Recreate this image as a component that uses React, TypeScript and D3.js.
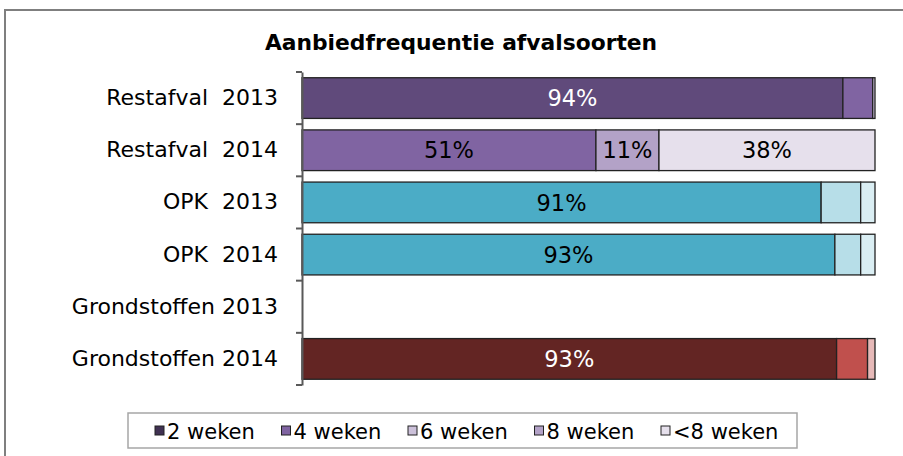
import React, { useEffect, useRef } from "react";
import * as d3 from "d3";

/* DATA */
const categories = [
  "Restafval  2013",
  "Restafval  2014",
  "OPK  2013",
  "OPK  2014",
  "Grondstoffen 2013",
  "Grondstoffen 2014",
];
const seriesNames = ["2 weken", "4 weken", "6 weken", "8 weken", "<8 weken"];
const weken2 = [94.4, 0, 90.6, 93.0, 0, 93.3];
const weken4 = [5.2, 51.3, 6.9, 4.5, 0, 5.4];
const weken6 = [0.4, 0, 2.5, 2.5, 0, 1.3];
const weken8 = [0, 11.0, 0, 0, 0, 0];
const wekenMeer = [0, 37.7, 0, 0, 0, 0];

// each product group gets its own shades
const groupOf = ["rest", "rest", "opk", "opk", "grond", "grond"];
const palettes: Record<string, string[]> = {
  rest: ["#604a7b", "#8064a2", "#ccc1da", "#b3a2c7", "#e6e0ec"],
  opk: ["#4bacc6", "#b7dee8", "#daeef3", "#daeef3", "#daeef3"],
  grond: ["#632523", "#c0504d", "#e6b9b8", "#e6b9b8", "#e6b9b8"],
};
const legendColors = ["#403152", "#8064a2", "#ccc1da", "#b3a2c7", "#e6e0ec"];

const W = 903;
const H = 456;
const FONT = "'DejaVu Sans', Verdana, sans-serif";

function App() {
  const ref = useRef<SVGSVGElement>(null);

  useEffect(() => {
    const svg = d3.select(ref.current);
    svg.selectAll("*").remove();

    // outer frame (runs off the right and bottom edge)
    svg
      .append("rect")
      .attr("x", 5)
      .attr("y", 10)
      .attr("width", W + 20)
      .attr("height", H + 20)
      .attr("fill", "white")
      .attr("stroke", "#7f7f7f")
      .attr("stroke-width", 2);

    svg
      .append("text")
      .attr("x", 461)
      .attr("y", 50)
      .attr("text-anchor", "middle")
      .attr("font-family", FONT)
      .attr("font-weight", "bold")
      .attr("font-size", 21.8)
      .text("Aanbiedfrequentie afvalsoorten");

    const x = d3.scaleLinear().domain([0, 100]).range([302, 875]);
    const y = d3
      .scaleBand()
      .domain(categories)
      .range([72, 385])
      .paddingInner(0.22)
      .paddingOuter(0.11);

    const table = categories.map((c, i) => ({
      cat: c,
      i,
      "2 weken": weken2[i],
      "4 weken": weken4[i],
      "6 weken": weken6[i],
      "8 weken": weken8[i],
      "<8 weken": wekenMeer[i],
    }));
    const stacked = d3.stack<any>().keys(seriesNames)(table);

    const g = svg.append("g");
    stacked.forEach((layer, si) => {
      layer.forEach((d: any) => {
        const v = d[1] - d[0];
        if (v <= 0) return;
        const row = d.data;
        const color = palettes[groupOf[row.i]][si];
        g.append("rect")
          .attr("x", x(d[0]))
          .attr("y", y(row.cat)!)
          .attr("width", x(d[1]) - x(d[0]))
          .attr("height", y.bandwidth())
          .attr("fill", color)
          .attr("stroke", "#222")
          .attr("stroke-width", 1.3);
        if (v >= 10) {
          g.append("text")
            .attr("x", (x(d[0]) + x(d[1])) / 2)
            .attr("y", y(row.cat)! + y.bandwidth() / 2)
            .attr("dy", "0.36em")
            .attr("text-anchor", "middle")
            .attr("font-family", FONT)
            .attr("font-size", 22.5)
            .attr("fill", d3.hsl(color).l < 0.45 ? "white" : "black")
            .text(Math.round(v) + "%");
        }
      });
    });

    // category axis
    const axis = svg
      .append("g")
      .attr("transform", "translate(302,0)")
      .call(d3.axisLeft(y).tickSize(0).tickSizeOuter(0).tickPadding(24));
    axis.select(".domain").attr("stroke", "#595959").attr("stroke-width", 2);
    axis
      .selectAll("text")
      .attr("font-family", FONT)
      .attr("font-size", 22)
      .attr("fill", "black")
      .style("white-space", "pre");
    // boundary ticks between categories
    axis
      .selectAll(".bound")
      .data(d3.range(categories.length + 1).map((k) => 72 + k * y.step()))
      .enter()
      .append("line")
      .attr("x1", -6)
      .attr("x2", 0)
      .attr("y1", (d) => d)
      .attr("y2", (d) => d)
      .attr("stroke", "#595959")
      .attr("stroke-width", 2);

    // legend
    const lg = svg.append("g");
    lg.append("rect")
      .attr("x", 128)
      .attr("y", 413)
      .attr("width", 669)
      .attr("height", 35)
      .attr("fill", "white")
      .attr("stroke", "#a6a6a6")
      .attr("stroke-width", 1.5);
    seriesNames.forEach((s, k) => {
      const lx = 155 + k * 126.5;
      lg.append("rect")
        .attr("x", lx)
        .attr("y", 426)
        .attr("width", 9)
        .attr("height", 9)
        .attr("fill", legendColors[k])
        .attr("stroke", "#222")
        .attr("stroke-width", 1);
      lg.append("text")
        .attr("x", lx + 12)
        .attr("y", 439)
        .attr("font-family", FONT)
        .attr("font-size", 21)
        .text(s);
    });
  }, []);

  return (
    <svg
      ref={ref}
      width={W}
      height={H}
      style={{ position: "absolute", left: 0, top: 0, background: "white" }}
    />
  );
}

export default App;
